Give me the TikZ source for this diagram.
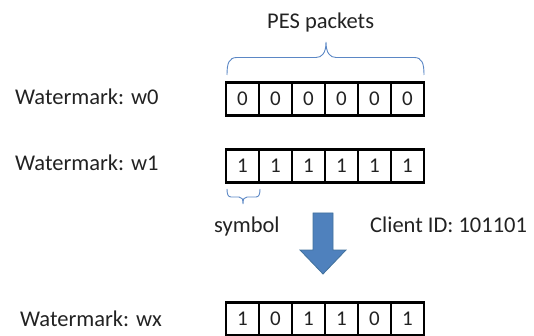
\documentclass[tikz,border=0pt]{standalone}
\usepackage{fontspec}
\setmainfont{Carlito}
\definecolor{bracecol}{HTML}{5B87C5}
\definecolor{arrowfill}{HTML}{4F81BD}
\definecolor{arrowline}{HTML}{41719C}
\definecolor{txt}{HTML}{222222}
\begin{document}
\begin{tikzpicture}[x=1pt,y=-1pt,
  lbl/.style={anchor=base west,inner sep=0pt,text=txt,font=\fontsize{22.5}{27}\selectfont},
  cell/.style={draw=black,line width=2.5pt,minimum width=33pt,minimum height=33pt,inner sep=0pt,
    text=txt,font=\fontsize{21}{25}\selectfont},
  bracel/.style={draw=bracecol,line width=0.9pt}]
\useasboundingbox (0,0) rectangle (534,336);
% labels
\node[lbl] (pes) at (267,28.5) {PES packets};
\node[lbl] (lw0) at (15,105) {Watermark: w0};
\node[lbl] (lw1) at (15,171) {Watermark: w1};
\node[lbl] (lwx) at (20,326) {Watermark: wx};
\node[lbl] (sym) at (214,233) {symbol};
\node[lbl] (cid) at (370,233) {Client ID: 101101};
% rows
\foreach \v [count=\i] in {0,0,0,0,0,0} {
  \node[cell] (a\i) at (226+33*\i-16.5,99) {\v};
}
\foreach \v [count=\i] in {1,1,1,1,1,1} {
  \node[cell] (b\i) at (226+33*\i-16.5,166) {\v};
}
\foreach \v [count=\i] in {1,0,1,1,0,1} {
  \node[cell] (c\i) at (226+33*\i-16.5,319) {\v};
}
% PES brace
\draw[bracel] (227,75) .. controls (227,63) and (229,57.5) .. (237,57.5)
  -- (316,57.5) .. controls (322,57.5) and (326,53) .. (326,42)
  .. controls (326,53) and (330,57.5) .. (336,57.5)
  -- (414,57.5) .. controls (422,57.5) and (424,63) .. (424,75);
% symbol brace
\draw[bracel] (227,189) .. controls (227,194) and (228,197) .. (231,197)
  -- (239,197) .. controls (242,197) and (243,199) .. (243,204)
  .. controls (243,199) and (244,197) .. (247,197)
  -- (256,197) .. controls (259,197) and (260,194) .. (260,189);
% big arrow
\draw[fill=arrowfill,draw=arrowline,line width=0.8pt,line join=miter]
  (313,213) -- (333,213) -- (333,250) -- (346,250) -- (323,274) -- (300,250) -- (313,250) -- cycle;
\end{tikzpicture}
\end{document}
